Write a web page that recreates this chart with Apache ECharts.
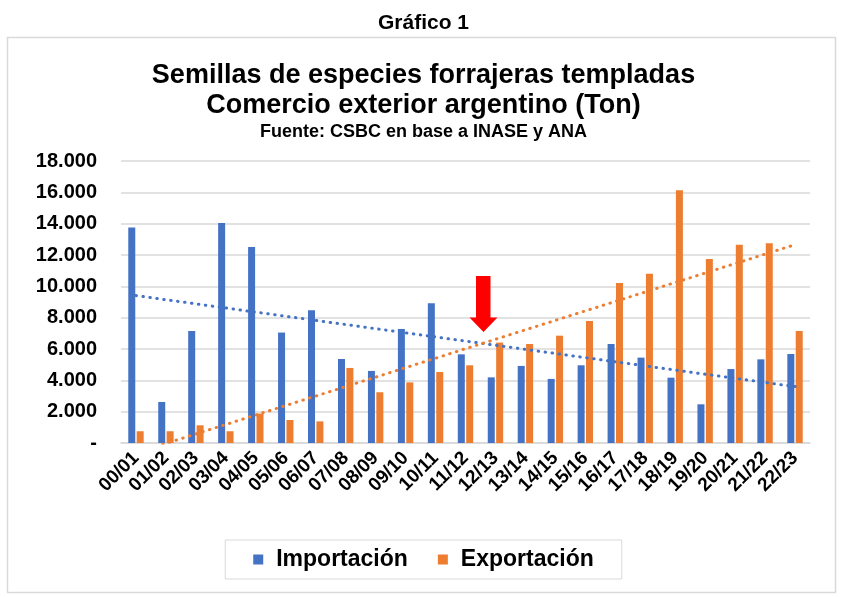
<!DOCTYPE html>
<html>
<head>
<meta charset="utf-8">
<script src="https://cdn.jsdelivr.net/npm/echarts@6/dist/echarts.min.js"></script>
<style>
  html, body { margin: 0; padding: 0; background: #fff; }
  #chart { width: 847px; height: 597px; }
</style>
</head>
<body>
<div id="chart"></div>
<script>
  // campañas
  var campanias = ['00/01', '01/02', '02/03', '03/04', '04/05', '05/06', '06/07', '07/08',
    '08/09', '09/10', '10/11', '11/12', '12/13', '13/14', '14/15', '15/16', '16/17',
    '17/18', '18/19', '19/20', '20/21', '21/22', '22/23'];

  // toneladas
  var importacion = [13750, 2620, 7150, 14040, 12510, 7050, 8470, 5360, 4600, 7280, 8920,
    5660, 4190, 4920, 4090, 4960, 6320, 5450, 4170, 2470, 4720, 5340, 5680];
  var exportacion = [750, 750, 1130, 750, 1880, 1470, 1380, 4790, 3240, 3870, 4530,
    4960, 6410, 6320, 6850, 7790, 10210, 10810, 16130, 11740, 12660, 12750, 7150];

  // lineas de tendencia: extremos (primera y ultima campaña)
  var tendImpExtremos = [9410, 3600];
  var tendExpExtremos = [-630, 12660];

  var yTicks = [0, 2000, 4000, 6000, 8000, 10000, 12000, 14000, 16000, 18000];

  function extremos(par) {
    var d = campanias.map(function () { return null; });
    d[0] = par[0];
    d[d.length - 1] = par[1];
    return d;
  }

  function fmtMiles(v) {
    if (v === 0) return '-';
    return String(v).replace(/\B(?=(\d{3})+(?!\d))/g, '.');
  }

  var chart = echarts.init(document.getElementById('chart'));
  var fuente = '"Liberation Sans", Arial, sans-serif';

  var option = {
    backgroundColor: '#fff',
    animation: false,
    textStyle: { fontFamily: fuente },
    title: [
      {
        text: 'Gráfico 1',
        left: 'center',
        top: 8,
        textStyle: { fontSize: 21, fontWeight: 'bold', color: '#000', fontFamily: fuente }
      },
      {
        text: 'Semillas de especies forrajeras templadas',
        left: 'center',
        top: 57,
        textStyle: { fontSize: 27, fontWeight: 'bold', color: '#000', fontFamily: fuente }
      },
      {
        text: 'Comercio exterior argentino (Ton)',
        left: 'center',
        top: 87,
        textStyle: { fontSize: 27, fontWeight: 'bold', color: '#000', fontFamily: fuente }
      },
      {
        text: 'Fuente: CSBC en base a INASE y ANA',
        left: 'center',
        top: 118,
        textStyle: { fontSize: 18, fontWeight: 'bold', color: '#000', fontFamily: fuente }
      }
    ],
    legend: {
      data: ['Importación', 'Exportación'],
      left: 'center',
      top: 540,
      icon: 'rect',
      itemWidth: 10,
      itemHeight: 10,
      itemGap: 30,
      padding: [8, 28],
      borderColor: '#d9d9d9',
      borderWidth: 1,
      textStyle: {
        fontSize: 23, fontWeight: 'bold', color: '#000', fontFamily: fuente,
        padding: [0, 0, 0, 8]
      }
    },
    grid: {
      left: 121,
      right: 37,
      top: 161,
      height: 282,
      containLabel: false
    },
    xAxis: {
      type: 'category',
      data: campanias,
      axisLine: { lineStyle: { color: '#d9d9d9', width: 1.5 } },
      axisTick: { show: false },
      axisLabel: {
        rotate: 45,
        interval: 0,
        margin: 12,
        color: '#000',
        fontSize: 19,
        fontWeight: 'bold',
        fontFamily: fuente
      }
    },
    yAxis: {
      type: 'value',
      min: yTicks[0],
      max: yTicks[yTicks.length - 1],
      interval: yTicks[1] - yTicks[0],
      axisLine: { show: false },
      axisTick: { show: false },
      splitLine: { lineStyle: { color: '#d9d9d9', width: 1.5 } },
      axisLabel: {
        formatter: fmtMiles,
        margin: 24,
        color: '#000',
        fontSize: 20,
        fontWeight: 'bold',
        fontFamily: fuente
      }
    },
    series: [
      {
        name: 'Importación',
        type: 'bar',
        data: importacion,
        barWidth: 7,
        barGap: '20%',
        itemStyle: { color: '#4472C4' },
        z: 2
      },
      {
        name: 'Exportación',
        type: 'bar',
        data: exportacion,
        barWidth: 7,
        itemStyle: { color: '#ED7D31' },
        z: 2
      },
      {
        name: 'Tendencia importación',
        type: 'line',
        data: extremos(tendImpExtremos),
        connectNulls: true,
        showSymbol: false,
        symbol: 'none',
        clip: true,
        lineStyle: { color: '#4472C4', width: 3, type: [0.5, 6.5], cap: 'round' },
        z: 3
      },
      {
        name: 'Tendencia exportación',
        type: 'line',
        data: extremos(tendExpExtremos),
        connectNulls: true,
        showSymbol: false,
        symbol: 'none',
        clip: true,
        lineStyle: { color: '#ED7D31', width: 3, type: [0.5, 6.5], cap: 'round' },
        z: 3
      }
    ],
    graphic: [
      {
        type: 'rect',
        shape: { x: 7.5, y: 37.5, width: 828, height: 555 },
        style: { fill: 'none', stroke: '#d9d9d9', lineWidth: 1.5 },
        silent: true,
        z: -1
      },
      {
        // flecha roja
        type: 'polygon',
        shape: {
          points: [[476, 276], [490.5, 276], [490.5, 317.5], [497.5, 317.5],
            [483.5, 332], [469.5, 317.5], [476, 317.5]]
        },
        style: { fill: '#FF0000' },
        z: 10
      }
    ]
  };

  chart.setOption(option);
</script>
</body>
</html>
